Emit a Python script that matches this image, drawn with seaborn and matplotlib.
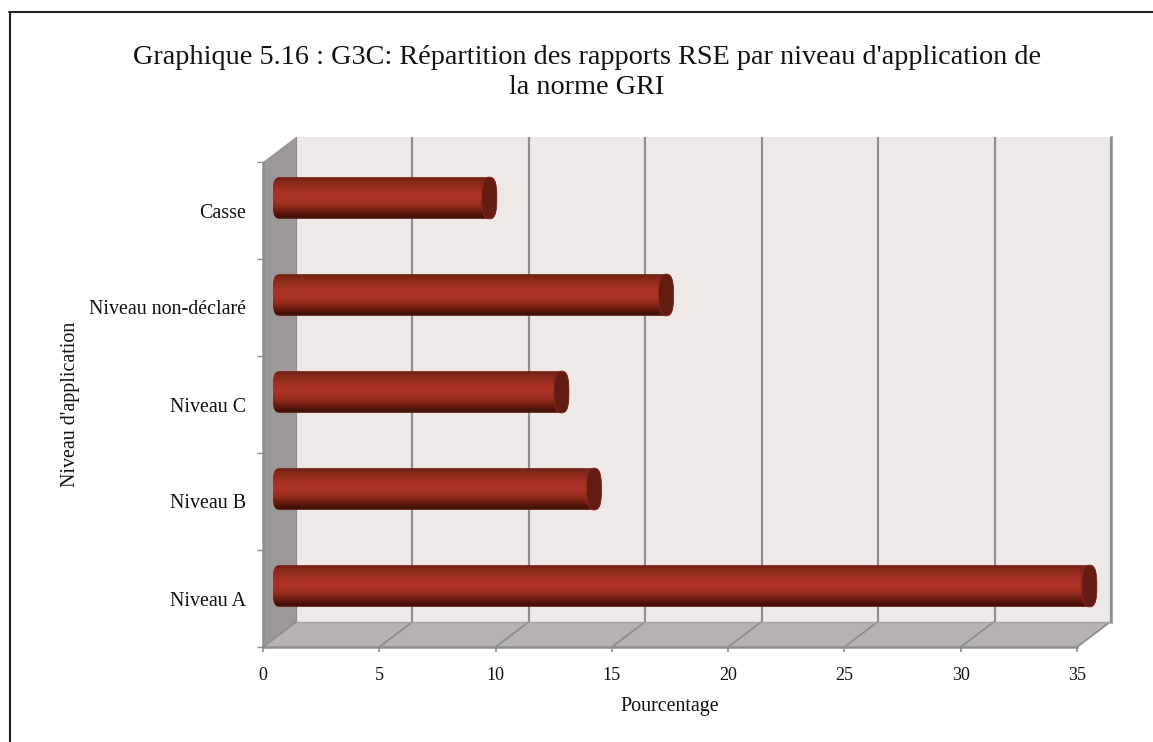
import numpy as np
import pandas as pd
import seaborn as sns
import matplotlib
matplotlib.use('Agg')
import matplotlib.pyplot as plt
from matplotlib.colors import LinearSegmentedColormap
from matplotlib.lines import Line2D
from matplotlib.patches import Polygon
from matplotlib.path import Path
from matplotlib.transforms import Affine2D

# DATA
categories = ['Casse', 'Niveau non-déclaré', 'Niveau C', 'Niveau B', 'Niveau A']
percent = [9.0, 16.6, 12.1, 13.5, 34.8]
xticks = [0, 5, 10, 15, 20, 25, 30, 35]
title = "Graphique 5.16 : G3C: Répartition des rapports RSE par niveau d'application de\nla norme GRI"
xlabel = 'Pourcentage'
ylabel = "Niveau d'application"

W, H = 1153, 742
GRAY = '#8e8e8e'

sns.set_theme(style='white')
plt.rcParams['font.family'] = ['Liberation Serif', 'DejaVu Serif']

def box(x0, y_top, x1, y_bottom):
    # pixel box (from the top left) to figure fractions
    return [x0 / W, 1 - y_bottom / H, (x1 - x0) / W, (y_bottom - y_top) / H]

fig = plt.figure(figsize=(W / 100, H / 100), dpi=100, facecolor='white')

# frame of the picture
fig.add_artist(Line2D([9.5 / W, 9.5 / W], [0, 1 - 11.5 / H], color='#222222', lw=1.5))
fig.add_artist(Line2D([9 / W, 1], [1 - 12 / H, 1 - 12 / H], color='#222222', lw=1.5))

fig.text(587 / W, 1 - 45 / H, title, ha='center', va='top', fontsize=20.3,
         linespacing=1.28, color='#111111')

# BACK WALL
back = fig.add_axes(box(296, 137, 1111, 622), facecolor='#eee9e6', zorder=1)
back.set_xlim(0, 35)
back.set_xticks(xticks)
back.set_yticks([])
back.tick_params(labelbottom=False, length=0)
back.grid(axis='x', color=GRAY, lw=1.6)
back.set_axisbelow(True)
for side in ['top', 'left', 'bottom']:
    back.spines[side].set_visible(False)
back.spines['right'].set_color(GRAY)
back.spines['right'].set_linewidth(1.8)

# FRONT AXES
ax = fig.add_axes(box(263, 162, 1077, 647), zorder=2)
ax.patch.set_visible(False)
df = pd.DataFrame({'cat': categories, 'pct': percent})
sns.barplot(data=df, x='pct', y='cat', orient='h', order=categories, ax=ax,
            width=0.43, color='#a9301f', saturation=1, zorder=5)
bars = list(ax.patches)
ax.set_xlim(0, 35)
ax.set_ylim(4.5, -0.5)
ax.set_xticks(xticks)
ax.set_yticks(range(5))
ax.set_yticks(np.arange(-0.5, 5), minor=True)
ax.tick_params(axis='y', which='major', length=0, pad=12, labelsize=14.4, labelcolor='#111111')
ax.tick_params(axis='y', which='minor', length=4, width=1, color=GRAY, left=True)
ax.tick_params(axis='x', length=3.5, width=1.2, color=GRAY, bottom=True, pad=11,
               labelsize=13, labelcolor='#111111')
ax.set_xlabel(xlabel, fontsize=14.4, labelpad=9, color='#111111')
ax.set_ylabel(ylabel, fontsize=14.4, color='#111111')
ax.yaxis.set_label_coords((80 - 263) / 814, (647 - 404) / 485)
for side in ['top', 'right']:
    ax.spines[side].set_visible(False)
for side in ['left', 'bottom']:
    ax.spines[side].set_color(GRAY)
    ax.spines[side].set_linewidth(1.8)

# side wall and floor, in axes fractions
dx, dy = 33 / 814, 25 / 485
ax.add_patch(Polygon([(0, 0), (dx, dy), (dx, 1 + dy), (0, 1)], transform=ax.transAxes,
                     facecolor='#9c9898', edgecolor='none', clip_on=False, zorder=1))
ax.add_patch(Polygon([(0, 0), (1, 0), (1 + dx, dy), (dx, dy)], transform=ax.transAxes,
                     facecolor='#b5b2af', edgecolor='none', clip_on=False, zorder=1))
for t in xticks:
    f = t / 35
    ax.add_line(Line2D([f, f + dx], [0, dy], transform=ax.transAxes, color=GRAY, lw=1.3,
                       clip_on=False, zorder=2))
ax.add_line(Line2D([dx, 1 + dx], [dy, dy], transform=ax.transAxes, color='#a5a3a1', lw=1,
                   clip_on=False, zorder=2))

# CYLINDERS: take the bars seaborn made and dress them up
fig.canvas.draw()
shift = ax.transData + Affine2D().translate(17, 12.5)
rx = 7.5 / (814 / 35)
cylinder = LinearSegmentedColormap.from_list('cyl', [
    (0.0, '#6f2013'), (0.1, '#85291a'), (0.35, '#a83224'), (0.5, '#ad3425'),
    (0.68, '#962c1d'), (0.85, '#64190e'), (0.96, '#3f1008'), (1.0, '#5a1a0e')])
K = 0.8  # squarer than a real ellipse, the ends of the tubes look like that
for bar in bars:
    x1 = bar.get_width()
    y0, y1 = bar.get_y(), bar.get_y() + bar.get_height()
    yc, ry = (y0 + y1) / 2, (y1 - y0) / 2
    # body: half ellipse left, straight, half ellipse right
    verts = [(0, y0), (x1, y0),
             (x1 + K * rx, y0), (x1 + rx, yc - K * ry), (x1 + rx, yc),
             (x1 + rx, yc + K * ry), (x1 + K * rx, y1), (x1, y1),
             (0, y1),
             (-K * rx, y1), (-rx, yc + K * ry), (-rx, yc),
             (-rx, yc - K * ry), (-K * rx, y0), (0, y0), (0, y0)]
    codes = [Path.MOVETO, Path.LINETO, Path.CURVE4, Path.CURVE4, Path.CURVE4,
             Path.CURVE4, Path.CURVE4, Path.CURVE4, Path.LINETO,
             Path.CURVE4, Path.CURVE4, Path.CURVE4,
             Path.CURVE4, Path.CURVE4, Path.CURVE4, Path.CLOSEPOLY]
    body = Path(verts, codes)
    bar.set_visible(False)
    grad = np.linspace(0, 1, 64).reshape(-1, 1)
    im = ax.imshow(grad, cmap=cylinder, aspect='auto', origin='upper',
                   extent=(-rx, x1 + rx, y1, y0), transform=shift, zorder=5,
                   interpolation='bilinear')
    im.set_clip_path(body, transform=shift)
    im.set_clip_box(fig.bbox)
    # end cap
    t = np.linspace(0, 2 * np.pi, 80)
    cx = np.sign(np.cos(t)) * np.abs(np.cos(t)) ** 0.75
    cy = np.sign(np.sin(t)) * np.abs(np.sin(t)) ** 0.75
    ax.add_patch(Polygon(np.c_[x1 + rx * cx, yc + ry * cy], transform=shift,
                         facecolor='#651c12', edgecolor='#8a2a1a', lw=0.6,
                         clip_on=False, zorder=6))

ax.set_xlim(0, 35)
ax.set_ylim(4.5, -0.5)
ax.set_aspect('auto')

plt.savefig('out.png', dpi=100)
